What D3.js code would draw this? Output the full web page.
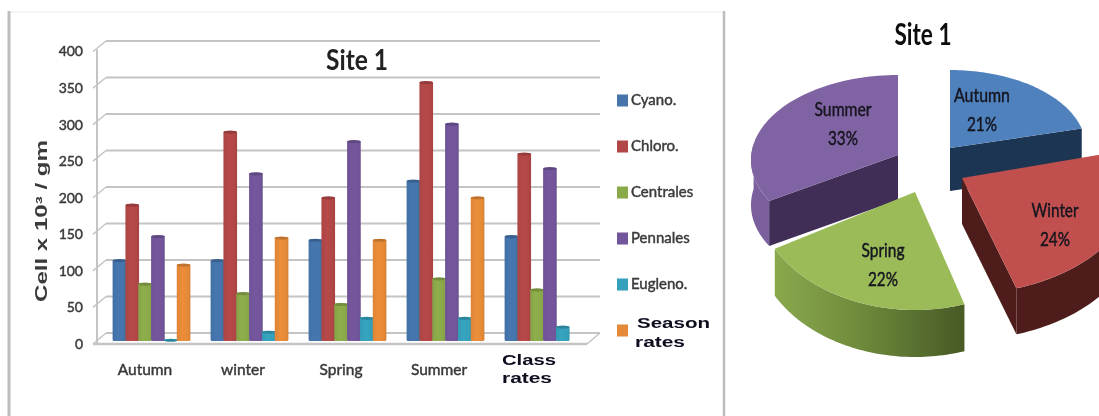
<!DOCTYPE html>
<html>
<head>
<meta charset="utf-8">
<script src="https://cdn.jsdelivr.net/npm/d3@7"></script>
<style>
  html, body { margin: 0; padding: 0; background: #fff; }
  svg { display: block; }
  text { font-family: Lato, "Open Sans", sans-serif; }
  .wide { font-family: "Liberation Sans", Arial, sans-serif; font-weight: 700; }
  .heavy { stroke: currentColor; stroke-width: 0.45px; }
</style>
</head>
<body>
<svg id="plate" width="1099" height="416"></svg>
<script>
// Monthly cell counts at Site 1, grouped by season, and the season shares.
const categories = ["Autumn", "winter", "Spring", "Summer", "Class rates"];
const seriesNames = ["Cyano.", "Chloro.", "Centrales", "Pennales", "Eugleno.", "Season rates"];
const seriesColors = ["#4474ab", "#b24646", "#8aa94a", "#72559a", "#35a0bb", "#e58a38"];
const cyano     = [110, 110, 138, 219, 143];
const chloro    = [186, 286, 196, 354, 256];
const centrales = [78, 65, 50, 85, 70];
const pennales  = [143, 229, 273, 297, 236];
const eugleno   = [1, 12, 31, 31, 19];
const seasonRates = [104, 141, 138, 196, null];
const yTicks = [0, 50, 100, 150, 200, 250, 300, 350, 400];

const seasons = ["Autumn", "Winter", "Spring", "Summer"];
const seasonShares = [21, 24, 22, 33];
const seasonColors = ["#4f81bd", "#c0504d", "#9bbb59", "#8064a2"];
const seasonWalls = ["#1f3552", "#4f1f1e", "#6b8339", "#3f2f57"];

const series = [cyano, chloro, centrales, pennales, eugleno, seasonRates];
const svg = d3.select("#plate");
const defs = svg.append("defs");

// Soft rendering of the two panels.
const soft = (id, sd) => defs.append("filter").attr("id", id)
  .attr("filterUnits", "userSpaceOnUse")
  .attr("x", 0).attr("y", 0).attr("width", 1099).attr("height", 416)
  .append("feGaussianBlur").attr("stdDeviation", sd);
soft("softBars", 0.7);
soft("softPie", 0.35);

// Gentle cylinder shading, one gradient per series.
seriesColors.forEach((c, i) => {
  const g = defs.append("linearGradient").attr("id", "cyl" + i);
  const stops = [[0, d3.color(c).darker(0.1)], [0.4, d3.color(c).brighter(0.08)], [0.8, c], [1, d3.color(c).darker(0.2)]];
  stops.forEach(s => g.append("stop").attr("offset", s[0]).attr("stop-color", s[1]));
});

/* ---------- column chart ---------- */
const chart = svg.append("g").attr("filter", "url(#softBars)");

chart.append("path")
  .attr("d", "M9,416V12H724V416")
  .attr("fill", "none").attr("stroke", "#ececec").attr("stroke-width", 1);
chart.append("line").attr("x1", 9).attr("x2", 9).attr("y1", 11).attr("y2", 416)
  .attr("stroke", "#bdbdbd").attr("stroke-width", 3);
chart.append("line").attr("x1", 724).attr("x2", 724).attr("y1", 11).attr("y2", 416)
  .attr("stroke", "#bdbdbd").attr("stroke-width", 2.5);

// The floor and back wall sit behind the columns, so three vertical scales share a domain.
const yBack  = d3.scaleLinear().domain([0, 400]).range([333, 41]);
const yFront = d3.scaleLinear().domain([0, 400]).range([344, 51.5]);
const yBar   = d3.scaleLinear().domain([0, 400]).range([340, 48]);
const x0 = d3.scaleBand().domain(categories).range([102, 592]).paddingInner(0).paddingOuter(0);
const x1 = d3.scaleBand().domain(d3.range(seriesNames.length)).range([11, 88]);

const gridColor = "#c4c4c4";
chart.append("g").selectAll("line").data(yTicks).join("line")
  .attr("x1", 106).attr("x2", 600)
  .attr("y1", d => yBack(d)).attr("y2", d => yBack(d))
  .attr("stroke", gridColor).attr("stroke-width", 2);
chart.append("g").selectAll("line").data(yTicks).join("line")
  .attr("x1", 93).attr("x2", 106)
  .attr("y1", d => yFront(d)).attr("y2", d => yBack(d))
  .attr("stroke", gridColor).attr("stroke-width", 1.5);
chart.append("line").attr("x1", 97).attr("x2", 97)
  .attr("y1", yFront(400) - 2).attr("y2", yFront(0))
  .attr("stroke", gridColor).attr("stroke-width", 2);
chart.append("line").attr("x1", 93).attr("x2", 587)
  .attr("y1", yFront(0)).attr("y2", yFront(0))
  .attr("stroke", gridColor).attr("stroke-width", 2.5);
chart.append("line").attr("x1", 587).attr("x2", 600)
  .attr("y1", yFront(0)).attr("y2", yBack(0))
  .attr("stroke", gridColor).attr("stroke-width", 1.5);

// Columns with a darker elliptical cap; neighbours touch.
const bars = chart.append("g");
categories.forEach((cat, ci) => {
  series.forEach((vals, si) => {
    const v = vals[ci];
    if (v === null) return;
    const bx = x0(cat) + x1(si) - 0.4, bw = x1.bandwidth() + 0.8;
    bars.append("rect")
      .attr("x", bx).attr("width", bw)
      .attr("y", yBar(v)).attr("height", yBar(0) - yBar(v) + 1)
      .attr("rx", 1.5)
      .attr("fill", `url(#cyl${si})`);
    bars.append("ellipse")
      .attr("cx", bx + bw / 2).attr("cy", yBar(v) + 1)
      .attr("rx", bw / 2).attr("ry", 1.6)
      .attr("fill", d3.color(seriesColors[si]).darker(0.5));
  });
});

// Value axis labels.
const yAxis = chart.append("g").attr("transform", "translate(83,0)")
  .call(d3.axisLeft(yFront).tickValues(yTicks).tickSize(0).tickPadding(0));
yAxis.select(".domain").remove();
yAxis.selectAll("text").attr("class", "heavy")
  .style("font-family", "Lato, sans-serif").style("font-size", "14px").style("color", "#3a3a3a").attr("fill", "#3a3a3a");

// Category labels; the last one is set on two bold lines.
const xAxis = chart.append("g").attr("transform", "translate(-6,364)")
  .call(d3.axisBottom(x0).tickSize(0).tickPadding(0));
xAxis.select(".domain").remove();
xAxis.selectAll("text").attr("class", "heavy")
  .style("font-family", "Lato, sans-serif").style("font-size", "15.5px").style("color", "#3a3a3a").attr("fill", "#3a3a3a");
const lastTick = xAxis.selectAll(".tick").filter(d => d === "Class rates").select("text");
lastTick.text(null).attr("class", "wide").style("font-family", null)
  .style("font-size", "15px").attr("fill", "#0a0a1e").attr("text-anchor", "start").attr("dy", null).attr("y", 0);
lastTick.append("tspan").attr("x", -35).attr("y", 1).attr("textLength", 54).attr("lengthAdjust", "spacingAndGlyphs").text("Class");
lastTick.append("tspan").attr("x", -35).attr("y", 19).attr("textLength", 50).attr("lengthAdjust", "spacingAndGlyphs").text("rates");

chart.append("text").attr("x", 357).attr("y", 70).attr("text-anchor", "middle")
  .attr("font-size", 29).attr("font-weight", 700).attr("fill", "#222")
  .attr("textLength", 62).attr("lengthAdjust", "spacingAndGlyphs")
  .text("Site 1");

chart.append("text").attr("class", "wide")
  .attr("transform", "translate(47,221) rotate(-90)")
  .attr("text-anchor", "middle").attr("font-size", 16).attr("fill", "#3a3a3a")
  .attr("textLength", 162).attr("lengthAdjust", "spacingAndGlyphs")
  .text("Cell  x 10³ / gm");

// Legend down the right side of the chart.
const legendY = d3.scalePoint().domain(seriesNames).range([100, 330]);
const legend = chart.append("g");
seriesNames.forEach((name, i) => {
  const ly = legendY(name);
  legend.append("rect").attr("x", 617).attr("y", ly - 5.5).attr("width", 11).attr("height", 12)
    .attr("fill", seriesColors[i]);
  if (name === "Season rates") {
    const [a, b] = name.split(" ");
    legend.append("text").attr("class", "wide").attr("x", 637).attr("y", 328)
      .attr("font-size", 15).attr("fill", "#0a0a1e")
      .attr("textLength", 73).attr("lengthAdjust", "spacingAndGlyphs").text(a);
    legend.append("text").attr("class", "wide").attr("x", 635).attr("y", 347)
      .attr("font-size", 15).attr("fill", "#0a0a1e")
      .attr("textLength", 50).attr("lengthAdjust", "spacingAndGlyphs").text(b);
  } else {
    legend.append("text").attr("class", "heavy").attr("x", 631).attr("y", ly + 5)
      .attr("font-size", 15).style("color", "#3a3a3a").attr("fill", "#3a3a3a").text(name);
  }
});

/* ---------- exploded 3-D pie ---------- */
const pieGroup = svg.append("g").attr("filter", "url(#softPie)");
const pieArcs = d3.pie().sort(null).value(d => d)(seasonShares);
const depth = [43, 46, 47, 45];
// Each slice is pulled out of the pie and foreshortened on its own; oy lifts the
// apex above the centre of the slice's rim ellipse.
const placement = [
  { cx: 950, cy: 148, rx: 136, ry: 78, oy: 0 },
  { cx: 962, cy: 178, rx: 176, ry: 116, oy: 0 },
  { cx: 915, cy: 192, rx: 160, ry: 118, oy: 0 },
  { cx: 898, cy: 155, rx: 147, ry: 85, oy: 5 }
];
const rim = (p, a) => [p.cx + p.rx * Math.sin(a), p.cy + p.oy - p.ry * Math.cos(a)];
const outline = d3.line();
const sweep = (p, a0, a1) => d3.range(61).map(i => rim(p, a0 + (a1 - a0) * i / 60));

// Outer wall of a slice between two angles.
function rimWall(p, a0, a1, d) {
  const top = sweep(p, a0, a1);
  return outline(top.concat(top.slice().reverse().map(q => [q[0], q[1] + d]))) + "Z";
}
// Flat wall along one radius of a slice.
function radialWall(p, a, d) {
  const e = rim(p, a);
  return outline([[p.cx, p.cy], e, [e[0], e[1] + d], [p.cx, p.cy + d]]) + "Z";
}

const springShade = defs.append("linearGradient").attr("id", "springWall");
[[0, "#8aa94d"], [0.45, "#6f8a3b"], [1, "#475a26"]].forEach(s =>
  springShade.append("stop").attr("offset", s[0]).attr("stop-color", s[1]));

function drawSlice(i, walls) {
  const p = placement[i], a = pieArcs[i];
  walls.forEach(w => pieGroup.append("path").attr("d", w.d).attr("fill", w.fill));
  pieGroup.append("path")
    .attr("d", outline([[p.cx, p.cy]].concat(sweep(p, a.startAngle, a.endAngle))) + "Z")
    .attr("fill", seasonColors[i]);
}
const TAU = 2 * Math.PI;
drawSlice(3, [
  { d: rimWall(placement[3], pieArcs[3].startAngle, 0.78 * TAU, depth[3]), fill: "#7a5e9c" },
  { d: radialWall(placement[3], pieArcs[3].startAngle, depth[3]), fill: seasonWalls[3] }
]);
drawSlice(0, [{ d: radialWall(placement[0], pieArcs[0].endAngle, depth[0]), fill: seasonWalls[0] }]);
drawSlice(2, [{ d: rimWall(placement[2], pieArcs[2].startAngle, pieArcs[2].endAngle, depth[2]), fill: "url(#springWall)" }]);
drawSlice(1, [
  { d: rimWall(placement[1], pieArcs[1].startAngle, pieArcs[1].endAngle, depth[1]), fill: seasonWalls[1] },
  { d: radialWall(placement[1], pieArcs[1].endAngle, depth[1]), fill: seasonWalls[1] }
]);

// Slice captions: name above share.
const captionAt = [[982, 102], [1055, 217], [883, 257], [843, 116]];
const captionWidths = [56, 47, 43, 57];
seasons.forEach((s, i) => {
  const [tx, ty] = captionAt[i];
  pieGroup.append("text").attr("class", "heavy").attr("x", tx).attr("y", ty).attr("text-anchor", "middle")
    .attr("font-size", 20).style("color", "#14141f").attr("fill", "#14141f")
    .attr("textLength", captionWidths[i]).attr("lengthAdjust", "spacingAndGlyphs").text(s);
  pieGroup.append("text").attr("class", "heavy").attr("x", tx).attr("y", ty + 29).attr("text-anchor", "middle")
    .attr("font-size", 20).style("color", "#14141f").attr("fill", "#14141f")
    .attr("textLength", 30).attr("lengthAdjust", "spacingAndGlyphs").text(seasonShares[i] + "%");
});

pieGroup.append("text").attr("x", 923).attr("y", 45).attr("text-anchor", "middle")
  .attr("font-size", 30).attr("font-weight", 700).attr("fill", "#111")
  .attr("textLength", 57).attr("lengthAdjust", "spacingAndGlyphs").text("Site 1");
</script>
</body>
</html>
